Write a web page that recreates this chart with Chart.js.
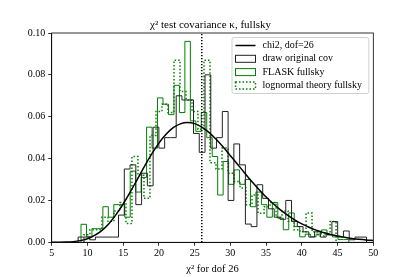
<!DOCTYPE html>
<html>
<head>
<meta charset="utf-8">
<script src="https://cdn.jsdelivr.net/npm/chart.js@4"></script>
<style>
  body { margin: 0; background: #fff; }
  #c { display: block; }
</style>
</head>
<body>
<canvas id="c" width="415" height="277"></canvas>
<script>
// chi2 pdf, dof = 26
const chiX = [5, 6, 7, 8, 9, 10, 11, 12, 13, 14, 15, 16, 17, 18, 19, 20, 21, 22, 23, 24, 25, 26, 27,
  28, 29, 30, 31, 32, 33, 34, 35, 36, 37, 38, 39, 40, 41, 42, 43, 44, 45, 46, 47, 48, 49, 50];
const chiY = [0.000005, 0.00003, 0.00011, 0.00032, 0.0008, 0.0017, 0.0033, 0.0056, 0.0089, 0.0132,
  0.0183, 0.0241, 0.0302, 0.0364, 0.0422, 0.0474, 0.0516, 0.0548, 0.0566, 0.0572, 0.0567, 0.0550,
  0.0525, 0.0492, 0.0455, 0.0414, 0.0373, 0.0331, 0.0290, 0.0252, 0.0216, 0.0184, 0.0155, 0.0130,
  0.0107, 0.0088, 0.0072, 0.0058, 0.0047, 0.0037, 0.0030, 0.0024, 0.0018, 0.0014, 0.0011, 0.0009];

const dofValue = 26;

// draw original cov (histogram, density)
const origStart = 8.70, origWidth = 0.807;
const origHeights = [0.0025, 0.0025, 0.0012, 0.0025, 0.0025, 0.0025, 0.0025, 0.013, 0.035, 0.037,
  0.018, 0.033, 0.027, 0.055, 0.045, 0.050, 0.050, 0.070, 0.068, 0.068,
  0.052, 0.043, 0.080, 0.045, 0.050, 0.0625, 0.020, 0.047, 0.037, 0.0087,
  0.0075, 0.0275, 0.021, 0.016, 0.012, 0.011, 0.020, 0.010, 0.0075, 0.005,
  0.0025, 0.005, 0.0025, 0.0037, 0.0099, 0.0025, 0.0054, 0.0012, 0.0025, 0.0025];

// FLASK fullsky
const flaskStart = 9.10, flaskWidth = 0.765;
const flaskHeights = [0.0086, 0.0026, 0.0065, 0.0065, 0.017, 0.012, 0.018, 0.018, 0.012, 0.034,
  0.024, 0.031, 0.055, 0.045, 0.069, 0.066, 0.061, 0.075, 0.062, 0.096,
  0.058, 0.053, 0.062, 0.050, 0.041, 0.0226, 0.0386, 0.0277, 0.0346, 0.0277,
  0.030, 0.017, 0.024, 0.018, 0.012, 0.019, 0.0115, 0.006, 0.014, 0.0075,
  0.0026, 0.0039, 0.0026, 0.0039, 0.0059, 0.0035, 0.0026, 0.0013, 0.0013];

// lognormal theory fullsky
const logStart = 9.51, logWidth = 0.84;
const logHeights = [0.0036, 0.006, 0.006, 0.012, 0.010, 0.015, 0.019, 0.009, 0.041, 0.032,
  0.021, 0.051, 0.0625, 0.066, 0.062, 0.087, 0.072, 0.068, 0.0625, 0.054,
  0.087, 0.038, 0.035, 0.045, 0.033, 0.029, 0.026, 0.018, 0.0226, 0.0139,
  0.017, 0.019, 0.012, 0.015, 0.010, 0.006, 0.005, 0.014, 0.005, 0.003,
  0.004, 0.0099];

const labels = ['chi2, dof=26', 'draw original cov', 'FLASK fullsky', 'lognormal theory fullsky'];

// outline of a step histogram
function stepPoints(start, width, heights) {
  const pts = [{x: start, y: 0}];
  heights.forEach((h, i) => pts.push({x: start + i * width, y: h}));
  const end = start + heights.length * width;
  pts.push({x: end, y: heights[heights.length - 1]});
  pts.push({x: end, y: 0});
  return pts;
}

const serif = '"Liberation Serif", "DejaVu Serif", serif';
const green = '#008000';

const extras = {
  id: 'extras',
  afterDatasetsDraw(chart) {
    const {ctx, chartArea: a} = chart;
    ctx.save();
    // spines
    ctx.strokeStyle = '#000';
    ctx.lineWidth = 0.8;
    ctx.strokeRect(a.left, a.top, a.right - a.left, a.bottom - a.top);

    // legend
    const lx = 232, ly = a.top + 4.5, lw = a.right - 4.5 - lx, lh = 56;
    ctx.fillStyle = 'rgba(255,255,255,0.8)';
    ctx.strokeStyle = '#d0d0d0';
    ctx.lineWidth = 1;
    ctx.beginPath();
    ctx.roundRect(lx, ly, lw, lh, 2);
    ctx.fill();
    ctx.stroke();
    ctx.font = '10px ' + serif;
    ctx.textBaseline = 'middle';
    ctx.fillStyle = '#000';
    const ds = chart.data.datasets.filter(d => d.label);
    ds.forEach((d, i) => {
      const cy = ly + 8 + i * 13.3;
      const hx = lx + 3.5, hw = 20;
      ctx.strokeStyle = d.borderColor;
      ctx.lineWidth = d.borderWidth;
      ctx.setLineDash(d.borderDash || []);
      if (i === 0) {
        ctx.beginPath();
        ctx.moveTo(hx, cy);
        ctx.lineTo(hx + hw, cy);
        ctx.stroke();
      } else {
        ctx.strokeRect(hx, cy - 3.5, hw, 7);
      }
      ctx.setLineDash([]);
      ctx.fillText(d.label, lx + 30.5, cy);
    });

    // title and x label
    ctx.textAlign = 'center';
    ctx.textBaseline = 'alphabetic';
    ctx.font = '11px ' + serif;
    const cx = (a.left + a.right) / 2;
    ctx.fillText('\u03c7\u00b2 test covariance \u03ba, fullsky', cx - 2, a.top - 5);
    ctx.font = '10.5px ' + serif;
    ctx.fillText('\u03c7\u00b2 for dof 26', cx, a.bottom + 30);
    ctx.restore();
  }
};

new Chart(document.getElementById('c'), {
  type: 'line',
  data: {
    datasets: [
      {
        label: labels[0],
        data: chiX.map((x, i) => ({x, y: chiY[i]})),
        borderColor: '#000', borderWidth: 1.5, pointRadius: 0,
        cubicInterpolationMode: 'monotone'
      },
      {
        data: [{x: dofValue, y: 0}, {x: dofValue, y: 0.1}],
        borderColor: '#000', borderWidth: 1.5, borderDash: [1.2, 1.8], pointRadius: 0
      },
      {
        label: labels[1],
        data: stepPoints(origStart, origWidth, origHeights),
        borderColor: '#222', borderWidth: 1, pointRadius: 0, stepped: true
      },
      {
        label: labels[2],
        data: stepPoints(flaskStart, flaskWidth, flaskHeights),
        borderColor: green, borderWidth: 1, pointRadius: 0, stepped: true
      },
      {
        label: labels[3],
        data: stepPoints(logStart, logWidth, logHeights),
        borderColor: green, borderWidth: 1.5, borderDash: [1.5, 2], pointRadius: 0, stepped: true
      }
    ]
  },
  options: {
    responsive: false,
    animation: false,
    devicePixelRatio: 1,
    layout: {padding: {top: 33, right: 41.7, left: 0, bottom: 0}},
    plugins: {legend: {display: false}, tooltip: {enabled: false}},
    scales: {
      x: {
        type: 'linear', min: 5, max: 50,
        afterFit: s => { s.height = 34.7; },
        ticks: {stepSize: 5, color: '#000', font: {family: serif, size: 10}, padding: 1.5, maxRotation: 0},
        grid: {drawOnChartArea: false, tickLength: 3.5, color: '#000', lineWidth: 0.8},
        border: {color: '#000', width: 0.8}
      },
      y: {
        min: 0, max: 0.1,
        afterFit: s => { s.width = 51.7; },
        ticks: {stepSize: 0.02, color: '#000', font: {family: serif, size: 10}, padding: 3,
          callback: v => v.toFixed(2)},
        grid: {drawOnChartArea: false, tickLength: 3.5, color: '#000', lineWidth: 0.8},
        border: {color: '#000', width: 0.8}
      }
    }
  },
  plugins: [extras]
});
</script>
</body>
</html>
